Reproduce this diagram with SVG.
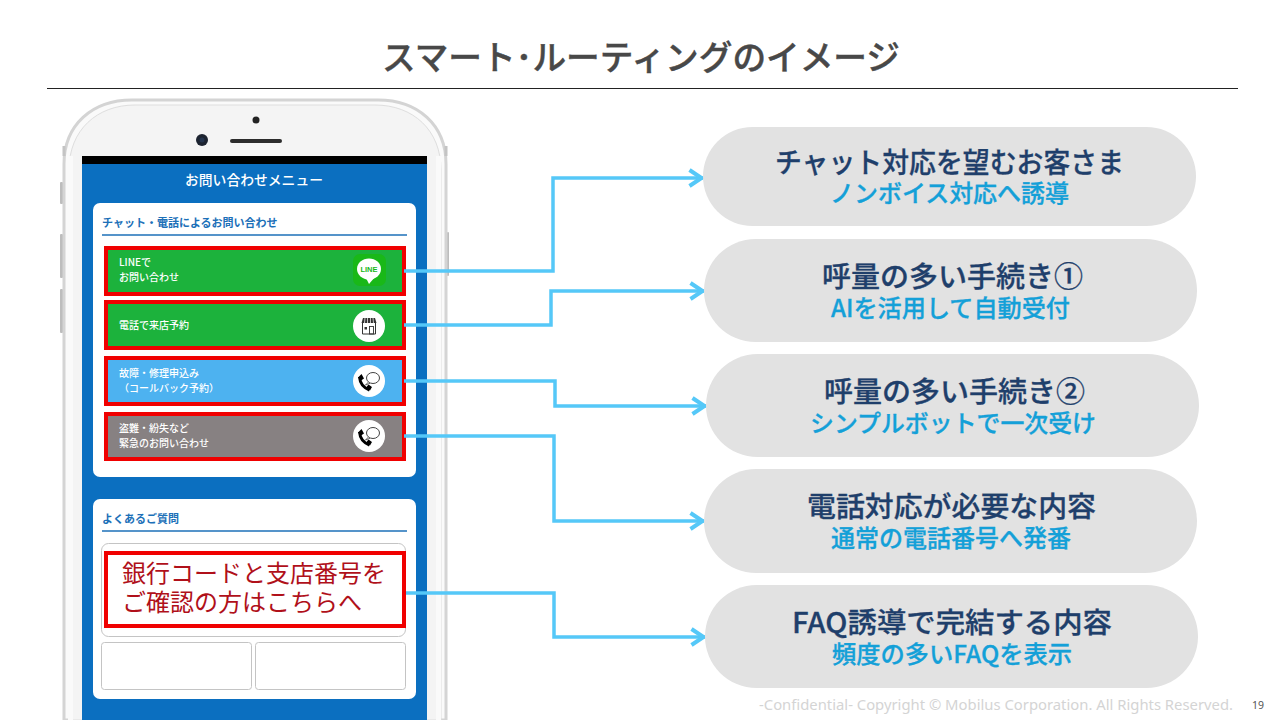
<svg xmlns="http://www.w3.org/2000/svg" width="1280" height="720" viewBox="0 0 1280 720">
<style>
text{font-family:"Noto Sans CJK JP","Noto Sans",sans-serif}
.pill{fill:#e2e2e2}
.h{font-size:28.500px;font-weight:500;fill:#1f3f6b;text-anchor:middle;stroke:#1f3f6b;stroke-width:.3px}
.s{font-size:24px;font-weight:500;fill:#14a0d8;text-anchor:middle;stroke:#14a0d8;stroke-width:.3px}
.red{fill:none;stroke:#f00000;stroke-width:4}
.btn{font-size:10px;font-weight:500;fill:#fff}
.card{fill:#fff}
.ct{font-size:11px;font-weight:700;fill:#1c70b8}
.conn{fill:none;stroke:#55c8f8;stroke-width:3.500;marker-end:url(#a)}
.faq{fill:#fff;stroke:#c4c4c4;stroke-width:1}
</style>
<defs>
<marker id="a" markerUnits="userSpaceOnUse" markerWidth="24" markerHeight="24" refX="20" refY="12" orient="auto" overflow="visible">
<path d="M6.500 4 18.500 12 6.500 20" fill="none" stroke="#55c8f8" stroke-width="4"/>
</marker>
<g id="callicon">
<circle cx="0" cy="0" r="16" fill="#fff"/>
<path d="M-9.500-4C-9 2-5 7 .5 9" fill="none" stroke="#000" stroke-width="3"/>
<path d="M-11-3.500-7.500-7-5-2.500-8-.5ZM-3 6.500-.5 3.500 3 6 1 9.500Z" fill="#000"/>
<ellipse cx="4" cy="-3" rx="6.500" ry="5.500" fill="#fff" stroke="#444" stroke-width="1"/>
<path d="M-.5 1 -3.500 4 1 2.300" fill="#fff" stroke="#444" stroke-width=".8"/>
</g>
</defs>
<rect width="1280" height="720" fill="#fff"/>
<text id="title" x="641" y="70" font-size="34" font-weight="500" fill="#484848" stroke="#484848" stroke-width=".4" text-anchor="middle" textLength="518" lengthAdjust="spacingAndGlyphs">スマート･ルーティングのイメージ</text>
<line x1="47" y1="88.500" x2="1238" y2="88.500" stroke="#222" stroke-width="1"/>
<g id="phone">
<rect x="60" y="182" width="3" height="22" rx="1" fill="#bdbdbd"/>
<rect x="60" y="234" width="3" height="44" rx="1" fill="#bdbdbd"/>
<rect x="60" y="289" width="3" height="44" rx="1" fill="#bdbdbd"/>
<rect x="447" y="232" width="2" height="44" rx="1" fill="#bdbdbd"/>
<path d="M64 720V164C64 125 92 100 132 100H378C418 100 446 125 446 164V720Z" fill="#fafafa" stroke="#d4d4d4" stroke-width="3"/>
<path d="M69 720V170C69 130 97 105 135 105H375C413 105 441 130 441 170V720Z" fill="#f4f4f4" stroke="#dedede" stroke-width="1"/>
<rect x="62.500" y="146" width="3" height="10" fill="#c4c4c4"/>
<rect x="444.500" y="146" width="3" height="10" fill="#c4c4c4"/>
<rect x="68" y="156" width="5" height="564" fill="#fafafa"/>
<rect x="436" y="156" width="5" height="564" fill="#fafafa"/>
<circle cx="256" cy="120" r="3.500" fill="#222"/>
<circle cx="202" cy="140" r="6" fill="#1c2330"/>
<circle cx="202" cy="140" r="2.500" fill="#24344e"/>
<rect x="230" y="139" width="52" height="4" rx="2" fill="#2c2c2c"/>
<rect x="82" y="156" width="345" height="8" fill="#000"/>
<rect x="82" y="164" width="345" height="556" fill="#0b6fc0"/>
<text x="254" y="185" font-size="13.800" font-weight="500" fill="#fff" text-anchor="middle">お問い合わせメニュー</text>
</g>
<g id="card-contact">
<rect class="card" x="93" y="203" width="323" height="274" rx="7"/>
<text class="ct" x="102" y="227">チャット・電話によるお問い合わせ</text>
<line x1="102" y1="235" x2="407" y2="235" stroke="#1c70b8" stroke-width="1.500"/>
</g>
<g id="btn-line">
<rect x="106" y="248" width="298" height="46" fill="#1cb23c"/>
<rect class="red" x="106" y="248" width="298" height="46"/>
<text class="btn" x="119" y="266">LINEで</text><text class="btn" x="119" y="281">お問い合わせ</text>
<rect x="353" y="254" width="33" height="32" rx="7" fill="#19b818"/>
<ellipse cx="369" cy="269" rx="12" ry="10.500" fill="#fff"/>
<path d="M366 278 369 284 375 277Z" fill="#fff"/>
<text x="369" y="272" font-size="7.500" font-weight="700" fill="#19b818" text-anchor="middle" style="font-family:'Liberation Sans',sans-serif">LINE</text>
</g>
<g id="btn-store">
<rect x="106" y="302" width="298" height="46" fill="#1cb23c"/>
<rect class="red" x="106" y="302" width="298" height="46"/>
<text class="btn" x="119" y="329">電話で来店予約</text>
<circle cx="369" cy="326" r="16" fill="#fff"/>
<path d="M362.500 323V334H375.500V323" fill="none" stroke="#333" stroke-width="1"/>
<path d="M363 318H375L376.500 323H361.500Z" fill="#333"/>
<path d="M365 318 364.500 323M367.500 318V323M370.500 318V323M373 318 373.500 323" stroke="#fff" stroke-width=".7"/>
<rect x="364.500" y="327" width="2.500" height="2.500" fill="#333"/>
<rect x="369.500" y="326.500" width="4" height="7.500" fill="none" stroke="#333" stroke-width=".9"/>
</g>
<g id="btn-repair">
<rect x="106" y="358" width="298" height="46" fill="#4db2f0"/>
<rect class="red" x="106" y="358" width="298" height="46"/>
<text class="btn" x="119" y="377">故障・修理申込み</text><text class="btn" x="119" y="392">（コールバック予約）</text>
<use href="#callicon" x="369" y="381"/>
</g>
<g id="btn-theft">
<rect x="106" y="414" width="298" height="45" fill="#878182"/>
<rect class="red" x="106" y="414" width="298" height="45"/>
<text class="btn" x="119" y="432">盗難・紛失など</text><text class="btn" x="119" y="447">緊急のお問い合わせ</text>
<use href="#callicon" x="369" y="436"/>
</g>
<g id="card-faq">
<rect class="card" x="93" y="499" width="323" height="200" rx="7"/>
<text class="ct" x="102" y="523">よくあるご質問</text>
<line x1="102" y1="531" x2="407" y2="531" stroke="#1c70b8" stroke-width="1.500"/>
<rect class="faq" x="101.500" y="543.500" width="304" height="93" rx="7"/>
<rect class="faq" x="101.500" y="642.500" width="150" height="47" rx="3"/>
<rect class="faq" x="255.500" y="642.500" width="150" height="47" rx="3"/>
</g>
<g id="faq-highlight">
<rect x="106" y="553" width="298" height="73" fill="#fff" stroke="#f00000" stroke-width="4"/>
<text x="122" y="582" font-size="24" fill="#b0101a" font-weight="400">銀行コードと支店番号を</text>
<text x="122" y="611" font-size="24" fill="#b0101a" font-weight="400">ご確認の方はこちらへ</text>
</g>
<g id="connectors">
<path class="conn" d="M404 271H553V178H703"/>
<path class="conn" d="M404 325H551V291H704"/>
<path class="conn" d="M404 381H555V406H706"/>
<path class="conn" d="M404 436H554V521H704"/>
<path class="conn" d="M406 593H554V637H705"/>
</g>
<g id="pill-1"><rect class="pill" x="703" y="127" width="493" height="99" rx="49.500"/><text class="h" x="949.500" y="173" textLength="349" lengthAdjust="spacingAndGlyphs">チャット対応を望むお客さま</text><text class="s" x="949.500" y="202" textLength="239" lengthAdjust="spacingAndGlyphs">ノンボイス対応へ誘導</text></g>
<g id="pill-2"><rect class="pill" x="704" y="239" width="493" height="103" rx="51.500"/><text class="h" x="952.500" y="287" textLength="261" lengthAdjust="spacingAndGlyphs">呼量の多い手続き①</text><text class="s" x="950.500" y="317" textLength="239" lengthAdjust="spacingAndGlyphs">AIを活用して自動受付</text></g>
<g id="pill-3"><rect class="pill" x="706" y="354" width="493" height="103" rx="51.500"/><text class="h" x="954.500" y="402" textLength="261" lengthAdjust="spacingAndGlyphs">呼量の多い手続き②</text><text class="s" x="953" y="432" textLength="286" lengthAdjust="spacingAndGlyphs">シンプルボットで一次受け</text></g>
<g id="pill-4"><rect class="pill" x="704" y="469" width="493" height="104" rx="52"/><text class="h" x="951.500" y="517" textLength="289" lengthAdjust="spacingAndGlyphs">電話対応が必要な内容</text><text class="s" x="951" y="547" textLength="240" lengthAdjust="spacingAndGlyphs">通常の電話番号へ発番</text></g>
<g id="pill-5"><rect class="pill" x="705" y="585" width="493" height="103" rx="51.500"/><text class="h" x="952" y="633" textLength="320" lengthAdjust="spacingAndGlyphs">FAQ誘導で完結する内容</text><text class="s" x="952" y="663" textLength="240" lengthAdjust="spacingAndGlyphs">頻度の多いFAQを表示</text></g>
<g id="footer">
<text x="759" y="710" font-size="13.500" fill="#d4d4d4" textLength="474" lengthAdjust="spacingAndGlyphs" style="font-family:'Noto Sans',sans-serif">-Confidential-  Copyright © Mobilus Corporation. All Rights Reserved.</text>
<text x="1252" y="709" font-size="10.500" fill="#555" style="font-family:'Noto Sans',sans-serif">19</text>
</g>
</svg>
